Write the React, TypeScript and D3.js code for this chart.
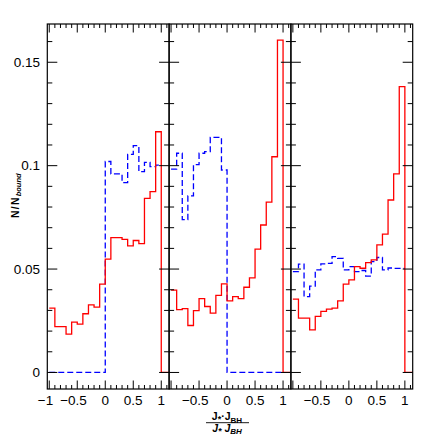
import React from 'react';
import * as d3 from 'd3';

// bin left edges (bin width 0.1)
const binStarts = [-1, -0.9, -0.8, -0.7, -0.6, -0.5, -0.4, -0.3, -0.2, -0.1, 0, 0.1, 0.2, 0.3, 0.4, 0.5, 0.6, 0.7, 0.8, 0.9];
const binEnd = 1;

// panel 1
const red1 = [0.0311, 0.0222, 0.0222, 0.0185, 0.0243, 0.0234, 0.0284, 0.0327, 0.0316, 0.0427, 0.0548, 0.0652, 0.0652, 0.0644, 0.0612, 0.0638, 0.0623, 0.0842, 0.0874, 0.1164];
const blue1 = [0, 0, 0, 0, 0, 0, 0, 0, 0, 0, 0.102, 0.096, 0.096, 0.0918, 0.1055, 0.1097, 0.0971, 0.1016, 0.0995, 0.1003];
// panel 2
const red2 = [0.0398, 0.0304, 0.0309, 0.0227, 0.0299, 0.0357, 0.0319, 0.0287, 0.0373, 0.0428, 0.0346, 0.0367, 0.0357, 0.0412, 0.0457, 0.0596, 0.0713, 0.0824, 0.1043, 0.1607];
const blue2 = [0.0983, 0.106, 0.0739, 0.0854, 0.1005, 0.106, 0.1068, 0.1137, 0.1137, 0.0979, 0, 0, 0, 0, 0, 0, 0, 0, 0, 0];
// panel 3
const red3 = [0.0355, 0.0263, 0.0263, 0.0206, 0.0271, 0.0295, 0.0306, 0.0311, 0.0346, 0.0427, 0.0448, 0.0512, 0.0504, 0.0531, 0.0544, 0.0617, 0.0669, 0.0834, 0.096, 0.1382];
const blue3 = [0.0488, 0.0524, 0.0367, 0.0417, 0.0496, 0.0525, 0.0527, 0.056, 0.0552, 0.0496, 0.0512, 0.0488, 0.0493, 0.0466, 0.0536, 0.0556, 0.0496, 0.0505, 0.0503, 0.0503];

const xLabels1 = ['−1', '−0.5', '0', '0.5', '1'];
const xLabelValues1 = [-1, -0.5, 0, 0.5, 1];
const xLabels23 = ['−0.5', '0', '0.5', '1'];
const xLabelValues23 = [-0.5, 0, 0.5, 1];

const yTickValues = [0, 0.05, 0.1, 0.15];
const yTickLabels = ['0', '0.05', '0.1', '0.15'];

const panels = [
  { red: red1, blue: blue1, labels: xLabels1, labelValues: xLabelValues1 },
  { red: red2, blue: blue2, labels: xLabels23, labelValues: xLabelValues23 },
  { red: red3, blue: blue3, labels: xLabels23, labelValues: xLabelValues23 },
];

const W = 436, H = 436;
const left = 47.3, top = 24, bottom = 389, panelW = 121.8;
const xDomain: [number, number] = [-1.035, 1.14];
const font = '"Liberation Sans", Arial, Helvetica, sans-serif';

export default function App() {
  const y = d3.scaleLinear().domain([-0.008, 0.1685]).range([bottom, top]);
  const yMinor = y.ticks(18).filter(v => v >= 0);
  const isMajorY = (v: number) => Math.abs(v * 20 - Math.round(v * 20)) < 1e-6;

  return (
    <svg width={W} height={H} style={{ position: 'absolute', left: 0, top: 0, background: '#fff' }}>
      {panels.map((p, i) => {
        const x0 = left + i * panelW;
        const x = d3.scaleLinear().domain(xDomain).range([x0, x0 + panelW]);
        const xt = x.ticks(22).filter(v => v >= -1 && v <= 1.1);
        const isMajorX = (v: number) => Math.abs(v * 2 - Math.round(v * 2)) < 1e-6;
        const line = d3.line<[number, number]>()
          .x(d => x(d[0]))
          .y(d => y(d[1]))
          .curve(d3.curveStepAfter);
        const bluePts: [number, number][] = binStarts.map((b, k) => [b, p.blue[k]] as [number, number]);
        bluePts.push([binEnd, p.blue[p.blue.length - 1]]);
        const redPts: [number, number][] = binStarts.map((b, k) => [b, p.red[k]] as [number, number]);
        redPts.push([binEnd, p.red[p.red.length - 1]]);
        redPts.push([binEnd, 0]);
        redPts.push([xDomain[1], 0]);
        return (
          <g key={i}>
            <path d={line(bluePts) || ''} fill="none" stroke="#0000ff" strokeWidth={1.3} strokeDasharray="6,3" />
            <path d={line(redPts) || ''} fill="none" stroke="#ff0000" strokeWidth={1.3} />
            <rect x={x0} y={top} width={panelW} height={bottom - top} fill="none" stroke="#000" strokeWidth={1.2} />
            {/* x ticks top & bottom */}
            {xt.map((v, k) => {
              const len = isMajorX(v) ? 8.5 : 4;
              return (
                <g key={k} stroke="#000" strokeWidth={1}>
                  <line x1={x(v)} x2={x(v)} y1={top} y2={top + len} />
                  <line x1={x(v)} x2={x(v)} y1={bottom} y2={bottom - len} />
                </g>
              );
            })}
            {/* y ticks left & right */}
            {yMinor.map((v, k) => {
              const len = isMajorY(v) ? 10 : 5;
              return (
                <g key={k} stroke="#000" strokeWidth={1}>
                  <line x1={x0} x2={x0 + len} y1={y(v)} y2={y(v)} />
                  <line x1={x0 + panelW} x2={x0 + panelW - len} y1={y(v)} y2={y(v)} />
                </g>
              );
            })}
            {p.labels.map((lab, k) => {
              const neg = lab.startsWith('−');
              return (
                <text key={k} x={x(p.labelValues[k]) - (neg ? 3.8 : 0)} y={404.5} textAnchor="middle"
                  fontFamily={font} fontSize={13.5} fill="#000">{lab}</text>
              );
            })}
          </g>
        );
      })}
      {yTickValues.map((v, k) => (
        <text key={k} x={40} y={y(v) + 4.8} textAnchor="end" fontFamily={font} fontSize={13.5} fill="#000">
          {yTickLabels[k]}
        </text>
      ))}
      {/* y axis label */}
      <text transform="translate(18.5,218) rotate(-90)" fontFamily={font} fontSize={10.5} fontWeight="bold" fill="#000">
        <tspan letterSpacing={1.2}>N/N</tspan>
        <tspan dy={2} fontSize={7.5} fontStyle="italic">bound</tspan>
      </text>
      {/* x axis label: fraction */}
      <g fontFamily={font} fontWeight="bold" fill="#000">
        <text x={227} y={420} textAnchor="middle" fontSize={10.5}>
          <tspan>J</tspan>
          <tspan dy={2} fontSize={9}>*</tspan>
          <tspan dy={-2}>·J</tspan>
          <tspan dy={2.5} fontSize={8}>BH</tspan>
        </text>
        <line x1={206} x2={249} y1={422.7} y2={422.7} stroke="#000" strokeWidth={0.9} />
        <text x={227} y={431.5} textAnchor="middle" fontSize={10.5} fontStyle="italic">
          <tspan>J</tspan>
          <tspan dy={2} fontSize={9}>*</tspan>
          <tspan dy={-2}> J</tspan>
          <tspan dy={2.5} fontSize={8}>BH</tspan>
        </text>
      </g>
    </svg>
  );
}
